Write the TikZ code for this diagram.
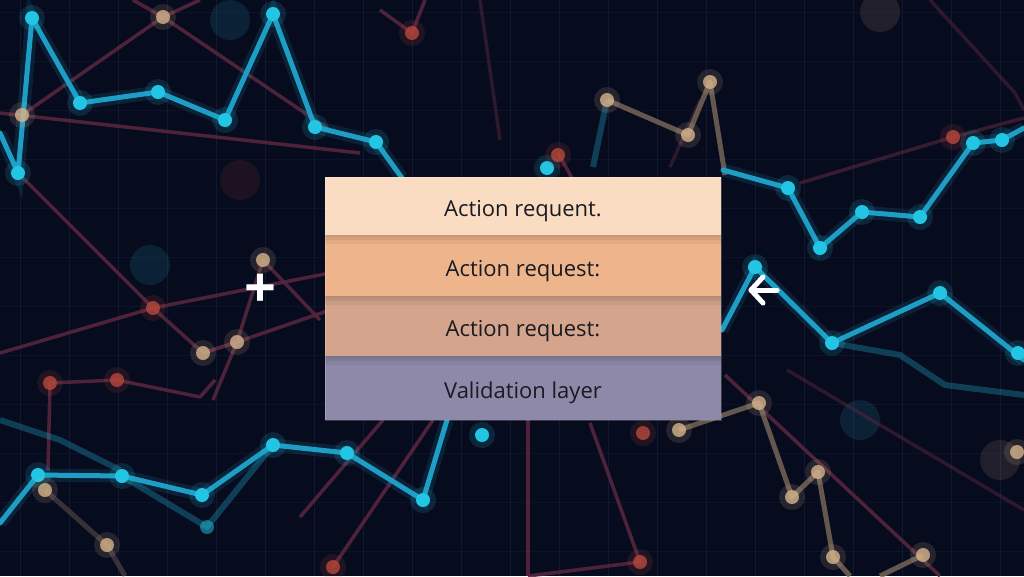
\documentclass[tikz,border=0pt]{standalone}
\usepackage{fontspec}
\setmainfont{Open Sans}
\usepackage{tikz}
\usetikzlibrary{positioning}
\definecolor{night-bg}{HTML}{070B1E}
\definecolor{night-grid}{HTML}{18223E}
\definecolor{link-blue}{HTML}{1E9EC4}
\definecolor{dot-blue}{HTML}{22C6E4}
\definecolor{link-red}{HTML}{56263E}
\definecolor{dot-red}{HTML}{B8483C}
\definecolor{link-sand}{HTML}{7A6A5A}
\definecolor{dot-sand}{HTML}{D6B48C}
\definecolor{card-top}{HTML}{FADCC3}
\definecolor{card-mid}{HTML}{EEB48C}
\definecolor{card-low}{HTML}{D4A48C}
\definecolor{card-base}{HTML}{8E89A8}
\definecolor{ink}{HTML}{1A1A22}

\begin{document}
\begin{tikzpicture}[x=1pt, y=-1pt,
    layer/.style={minimum width=396pt, minimum height=60pt, inner sep=0pt, outer sep=0pt, text=ink, text height=21pt, text depth=0pt, font=\fontsize{22}{26}\selectfont},
    gridline/.style={draw=night-grid, line width=1pt, opacity=.6},
    bluelink/.style={draw=link-blue, line width=5pt, line join=round, line cap=round, preaction={draw=link-blue, line width=13pt, opacity=.15}},
    dimblue/.style={draw=link-blue, line width=6pt, line join=round, opacity=.35},
    redlink/.style={draw=link-red, line width=3.5pt, line join=round, opacity=.9},
    sandlink/.style={draw=link-sand, line width=5pt, line join=round, opacity=.8},
    sidemark/.style={text=white, inner sep=0pt},
    arrowstroke/.style={draw=white, line width=5pt, line cap=round, line join=round}
]
    % backdrop
    \fill[night-bg] (0,0) rectangle (1024,576);
    \useasboundingbox (0,0) rectangle (1024,576);
    \foreach \gx in {20,69,...,1024} \draw[gridline] (\gx,0) -- (\gx,576);
    \foreach \gy in {12,61,...,576} \draw[gridline, opacity=.35] (0,\gy) -- (1024,\gy);

    % faint bokeh
    \foreach \p/\c in {(230,20)/dot-blue, (150,265)/dot-blue, (880,12)/dot-sand, (410,320)/dot-blue, (720,640)/dot-red, (860,420)/dot-blue, (240,180)/dot-red, (1000,460)/dot-sand}
        \fill[\c, opacity=.12] \p circle (20pt);

    % maroon links
    \draw[redlink] (0,113) -- (360,153);
    \draw[redlink] (22,115) -- (163,17) -- (200,0);
    \draw[redlink] (133,0) -- (163,17) -- (330,130);
    \draw[redlink] (18,173) -- (153,308) -- (203,353) -- (237,342) -- (263,260) -- (320,320);
    \draw[redlink] (0,353) -- (153,308) -- (330,273);
    \draw[redlink] (203,353) -- (237,342) -- (330,310);
    \draw[redlink] (237,342) -- (213,400);
    \draw[redlink] (48,470) -- (50,383) -- (117,380) -- (200,397) -- (215,380);
    \draw[redlink] (380,10) -- (412,33) -- (425,0);
    \draw[redlink, opacity=.5] (480,0) -- (500,140);
    \draw[redlink] (558,153) -- (572,178);
    \draw[redlink] (300,517) -- (383,420);
    \draw[redlink] (333,567) -- (433,420);
    \draw[redlink] (528,420) -- (528,576);
    \draw[redlink] (590,423) -- (640,562) -- (528,576);
    \draw[redlink] (725,375) -- (940,576);
    \draw[redlink, opacity=.5] (787,370) -- (1024,510);
    \draw[redlink, opacity=.5] (700,100) -- (670,167);
    \draw[redlink, opacity=.6] (800,183) -- (953,137) -- (1024,118);
    \draw[redlink, opacity=.5] (930,0) -- (1015,93) -- (1024,110);

    % sand links
    \draw[sandlink] (607,100) -- (688,135) -- (710,82) -- (725,175);
    \draw[sandlink] (679,430) -- (759,403) -- (792,497) -- (818,472) -- (833,557) -- (850,576);
    \draw[sandlink] (923,555) -- (880,576);
    \draw[sandlink, opacity=.4] (45,490) -- (107,545) -- (125,576);

    % blue links
    \draw[dimblue] (122,476) -- (207,527) -- (273,445);
    \draw[dimblue] (832,343) -- (900,355) -- (945,385) -- (1024,395);
    \draw[dimblue] (593,167) -- (607,100);
    \draw[dimblue] (0,420) -- (60,440) -- (120,470);
    \draw[bluelink] (0,133) -- (18,173) -- (32,18) -- (80,103) -- (158,92) -- (225,120) -- (273,14) -- (315,127) -- (376,142) -- (402,178);
    \draw[bluelink] (0,523) -- (38,475) -- (122,476) -- (202,495) -- (273,445) -- (347,453) -- (423,500) -- (447,420);
    \draw[bluelink] (723,170) -- (788,188) -- (820,248) -- (862,212) -- (920,217) -- (973,143) -- (1002,140) -- (1024,128);
    \draw[bluelink] (722,330) -- (755,267) -- (832,343) -- (940,293) -- (1024,360);

    % dots
    \foreach \p in {(32,18),(80,103),(158,92),(225,120),(273,14),(315,127),(376,142),(18,173),(38,475),(122,476),(202,495),(273,445),(347,453),(423,500),(788,188),(820,248),(862,212),(920,217),(973,143),(1002,140),(755,267),(832,343),(940,293),(1018,353),(482,435),(547,168)} {
        \fill[dot-blue, opacity=.15] \p circle (13pt);
        \fill[dot-blue] \p circle (7pt);
    }
    \fill[dot-blue, opacity=.5] (207,527) circle (7pt);
    \foreach \p in {(412,33),(558,155),(153,308),(50,383),(117,380),(640,562),(333,567),(953,137),(643,433)} {
        \fill[dot-red, opacity=.15] \p circle (13pt);
        \fill[dot-red, opacity=.8] \p circle (7pt);
    }
    \foreach \p in {(163,17),(22,115),(203,353),(237,342),(263,260),(607,100),(688,135),(710,82),(679,430),(759,403),(792,497),(818,472),(833,557),(923,555),(1017,452),(107,545),(45,490)} {
        \fill[dot-sand, opacity=.15] \p circle (13pt);
        \fill[dot-sand, opacity=.8] \p circle (7pt);
    }

    % card stack
    \node (req1) [layer, fill=card-top, minimum height=58pt] at (523,206) {Action requent.};
    \node (req2) [layer, fill=card-mid, minimum height=61pt, below=0pt of req1] {Action request:};
    \node (req3) [layer, fill=card-low, below=0pt of req2] {Action request:};
    \node (valid) [layer, fill=card-base, minimum height=64pt, below=0pt of req3] {Validation layer};
    \foreach \b in {req2, req3, valid} {
        \fill[black, opacity=.05] (\b.north west) rectangle ([yshift=-9pt]\b.north east);
        \fill[black, opacity=.05] (\b.north west) rectangle ([yshift=-5pt]\b.north east);
        \fill[black, opacity=.05] (\b.north west) rectangle ([yshift=-2pt]\b.north east);
    }
    \draw[white, opacity=.2, line width=.8pt] (req1.north west) rectangle (valid.south east);

    % side marks
    \node (addmark) [sidemark, font=\fontsize{56}{56}\selectfont\bfseries] at (260,291) {+};
    \coordinate (backmark) at (751,290);
    \draw[arrowstroke] ([shift={(12,-13)}]backmark) -- (backmark) -- ([shift={(12,13)}]backmark);
    \draw[arrowstroke] (backmark) -- ([shift={(26,0)}]backmark);
\end{tikzpicture}
\end{document}
